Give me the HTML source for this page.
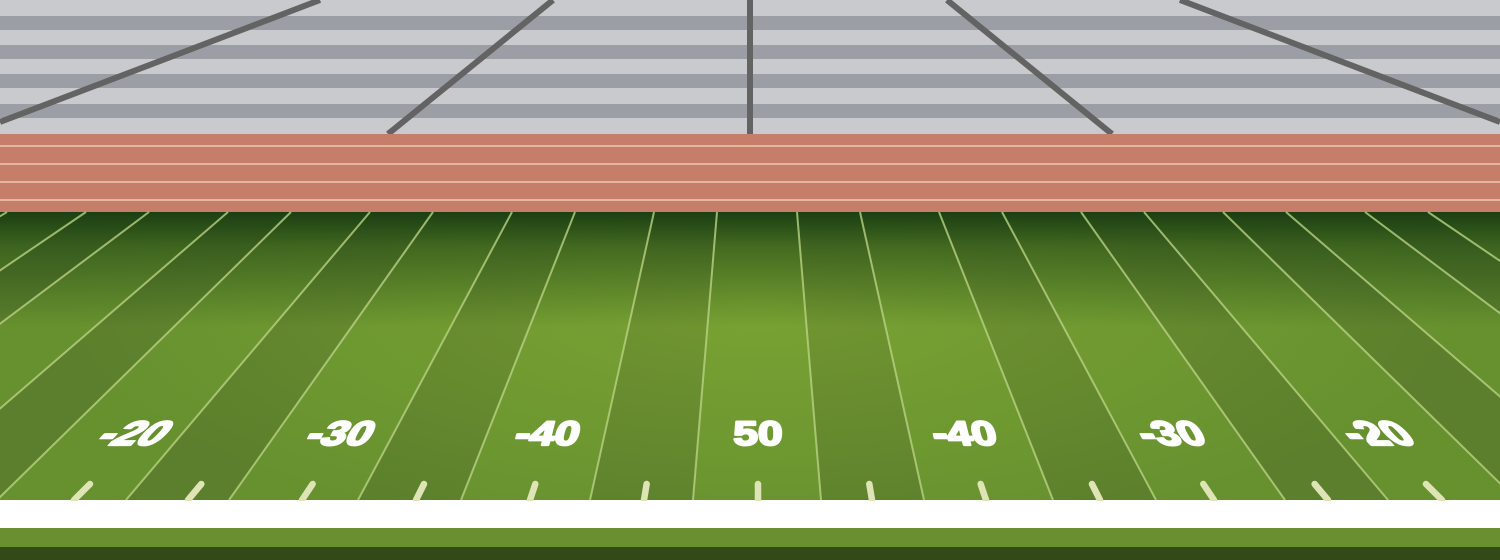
<!DOCTYPE html>
<html><head><meta charset="utf-8"><style>
html,body{margin:0;padding:0;background:#fff}
svg{display:block}
</style></head><body>
<svg id="scene" width="1500" height="560" viewBox="0 0 1500 560" xmlns="http://www.w3.org/2000/svg">
<defs>
<linearGradient id="topShade" x1="0" y1="0" x2="0" y2="1">
<stop offset="0" stop-color="#1b3f12" stop-opacity="1"/>
<stop offset="0.12" stop-color="#1b3f12" stop-opacity="0.55"/>
<stop offset="0.4" stop-color="#1b3f12" stop-opacity="0"/>
</linearGradient>
<radialGradient id="glow" cx="760" cy="300" r="700" gradientUnits="userSpaceOnUse" gradientTransform="translate(760 300) scale(1 0.35) translate(-760 -300)">
<stop offset="0" stop-color="#9cc43a" stop-opacity="0.35"/>
<stop offset="1" stop-color="#9cc43a" stop-opacity="0"/>
</radialGradient>
</defs>
<g id="stands"></g>
<g id="track"></g>
<g id="field"></g>
<g id="bottom"></g>
</svg>
<script>
const yardLabels = ["-20","-30","-40","50","-40","-30","-20"];
const labelX = [125,335,545,758,967,1177,1387];
const hashIdx = [-6,-5,-4,-3,-2,-1,0,1,2,3,4,5,6];

const NS="http://www.w3.org/2000/svg";
function mk(tag,attrs,parent){const e=document.createElementNS(NS,tag);for(const k in attrs)e.setAttribute(k,attrs[k]);parent.appendChild(e);return e;}
const stands=document.getElementById('stands'),track=document.getElementById('track'),field=document.getElementById('field'),bottom=document.getElementById('bottom');

let r=mk('rect',{x:0,y:0,width:1500,height:134,fill:'#c9cacd'},stands);


[[16,30],[45,59],[74,88],[104,118]].forEach(b=>{
 const s=mk('rect',{x:0,y:b[0],width:1500,height:b[1]-b[0],fill:'#9c9ea5'},stands);
 
 
});
[[0,122,320,0],[388,134,553,0],[750,134,750,0],[947,0,1112,134],[1180,0,1500,122]].forEach(l=>{
 const a=mk('line',{x1:l[0],y1:l[1],x2:l[2],y2:l[3],stroke:'#636363','stroke-width':6},stands);
 
 
});
r=mk('rect',{x:0,y:134,width:1500,height:78,fill:'#c67e6a'},track);


[146,164,182,200].forEach(y=>{
 const l=mk('rect',{x:0,y:y-0.75,width:1500,height:1.5,fill:'#ecc9b6'},track);
 
 
});
const CX=757,YT=212,YB=500;
const topOff=[40],botOff=[64];
for(let i=1;i<14;i++){topOff.push(topOff[i-1]+(i%2?63:79));botOff.push(botOff[i-1]+(i%2?103:129));}
function X(side,i,y){const t=(y-YT)/(YB-YT);return CX+side*(topOff[i]+(botOff[i]-topOff[i])*t);}
r=mk('rect',{x:0,y:YT,width:1500,height:YB-YT,fill:'#5b7f2c'},field);


function band(x1t,x2t,x1b,x2b){const p=mk('polygon',{points:`${x1t},${YT} ${x2t},${YT} ${x2b},${YB} ${x1b},${YB}`,fill:'#67912f'},field);
 
 }
band(X(-1,0,YT),X(1,0,YT),X(-1,0,YB),X(1,0,YB));
for(let i=1;i<12;i+=2){
 band(X(1,i,YT),X(1,i+1,YT),X(1,i,YB),X(1,i+1,YB));
 band(X(-1,i+1,YT),X(-1,i,YT),X(-1,i+1,YB),X(-1,i,YB));
}
r=mk('rect',{x:0,y:YT,width:1500,height:YB-YT,fill:'url(#glow)'},field);


r=mk('rect',{x:0,y:YT,width:1500,height:YB-YT,fill:'url(#topShade)'},field);


for(let i=0;i<14;i++){[-1,1].forEach(s=>{
 const l=mk('line',{x1:X(s,i,YT),y1:YT,x2:X(s,i,YB),y2:YB,stroke:'#b9d283','stroke-opacity':0.8,'stroke-width':2},field);
 
 
});}
const VY=-268;
hashIdx.forEach(k=>{
 const xb=758+k*114;
 const t=(482-VY)/(YB-VY);
 const xt=CX+(xb-CX)*t;
 const h=mk('line',{x1:xt,y1:484,x2:xb,y2:YB,stroke:'#dfe4b6','stroke-width':6.5,'stroke-linecap':'round'},field);
 
 
});
yardLabels.forEach((s,i)=>{
 const x=labelX[i];const sk=-(x-CX)/(YB-VY)*180/Math.PI*0.9;
 const t=mk('text',{x:0,y:0,fill:'#ffffff',stroke:'#ffffff','stroke-width':2.2,'stroke-linejoin':'round','font-family':'Liberation Sans, sans-serif','font-weight':'bold','font-size':34,'text-anchor':'middle',transform:`translate(${x} 445) skewX(${-sk}) scale(1.3 1)`},field);
 t.textContent=s;
 
 
});
r=mk('rect',{x:0,y:501,width:1500,height:27,fill:'#ffffff'},bottom);


r=mk('rect',{x:0,y:528,width:1500,height:19,fill:'#6a8f31'},bottom);


r=mk('rect',{x:0,y:547,width:1500,height:13,fill:'#334a18'},bottom);


</script>
</body></html>
